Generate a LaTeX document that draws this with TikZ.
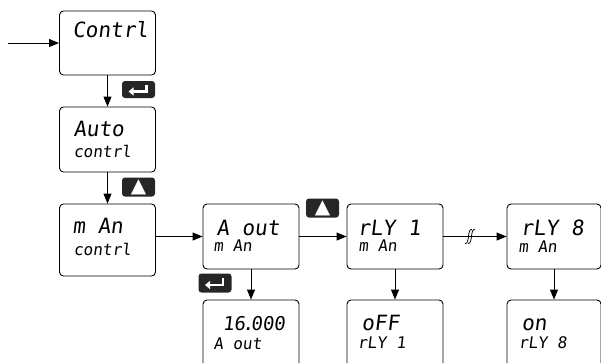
\documentclass[tikz,border=0pt]{standalone}
\usepackage{fontspec}
\usepackage{tikz}
\usetikzlibrary{arrows.meta}
\newfontfamily\segfont{DejaVu Sans Mono}[FakeSlant=0.12]
\newfontfamily\keyfont{DejaVu Sans}

\begin{document}
\begin{tikzpicture}[x=1pt,y=-1pt,->,>={Triangle[length=10pt,width=8pt]},line width=1pt]
    \tikzstyle{disp}=[draw, rounded corners=4pt, minimum width=96pt, minimum height=65pt, inner sep=0pt, line width=0.9pt]
    \tikzstyle{segbig}=[anchor=base west, inner sep=0pt, font=\segfont\fontsize{21}{21}\selectfont]
    \tikzstyle{segsmall}=[anchor=base west, inner sep=0pt, font=\segfont\fontsize{16}{16}\selectfont]
    \tikzstyle{keybox}=[fill=black!85, rounded corners=3pt, minimum width=33pt, minimum height=19pt, inner sep=0pt, text=white, font=\keyfont\fontsize{20}{20}\selectfont]
    \tikzstyle{entermark}=[white, line width=2.6pt, -{Triangle[length=5pt,width=8pt]}]
    \useasboundingbox (0,0) rectangle (601,362);

	% left column
	\node [disp, minimum height=64pt] (contrl) at (107.5,43) {};
	\node [segbig] (contrlA) at (72,37) {Contrl};

	\node [disp] (auto) at (107.5,139.5) {};
	\node [segbig] (autoA) at (73,136) {Auto};
	\node [segsmall] (autoB) at (73,157) {contrl};

	\node [disp, minimum height=72pt] (man) at (107.5,240) {};
	\node [segbig] (manA) at (72,233) {m An};
	\node [segsmall] (manB) at (73,255) {contrl};

	% top row
	\node [disp] (aout) at (251,236.5) {};
	\node [segbig] (aoutA) at (216,235) {A out};
	\node [segsmall] (aoutB) at (213,251) {m An};

	\node [disp] (rly1) at (395,236.5) {};
	\node [segbig] (rly1A) at (357,235) {rLY 1};
	\node [segsmall] (rly1B) at (358,251) {m An};

	\node [disp, minimum width=94pt] (rly8) at (554,236.5) {};
	\node [segbig] (rly8A) at (520,235) {rLY 8};
	\node [segsmall] (rly8B) at (518,252) {m An};

	% bottom row
	\node [disp, minimum height=70pt] (aval) at (251,335) {};
	\node [segbig, font=\segfont\fontsize{19}{19}\selectfont] (avalA) at (222,330) {16\kern-3pt.\kern-3pt000};
	\node [segsmall] (avalB) at (213,349) {A out};

	\node [disp, minimum height=70pt] (off) at (395,335) {};
	\node [segbig] (offA) at (361,330) {oFF};
	\node [segsmall] (offB) at (357,348) {rLY 1};

	\node [disp, minimum height=70pt, minimum width=94pt] (on) at (554,335) {};
	\node [segbig] (onA) at (521,330) {on};
	\node [segsmall] (onB) at (518,348) {rLY 8};

	% keys
	\node [keybox, minimum height=17pt] (enterA) at (138.5,89.5) {};
	\node [keybox] (upA) at (138.5,187) {▲};
	\node [keybox] (upB) at (322.5,208) {▲};
	\node [keybox] (enterB) at (215,283) {};
	\draw [entermark] ([shift={(8,-5)}]enterA.center) -- ([shift={(8,2)}]enterA.center) -- ([shift={(-10,2)}]enterA.center);
	\draw [entermark] ([shift={(8,-5)}]enterB.center) -- ([shift={(8,2)}]enterB.center) -- ([shift={(-10,2)}]enterB.center);

	% connectors
	\coordinate (start) at (8,43);
	\draw (start) -- (contrl);
	\draw (contrl) -- (auto);
	\draw (auto) -- (man);
	\draw (man.east |- aout.west) -- (aout);
	\draw (aout) -- (rly1);
	\draw (rly1) -- coordinate[pos=0.42] (brk) (rly8);
	\draw (aout) -- (aval);
	\draw (rly1) -- (off);
	\draw (rly8) -- (on);

	% break mark
	\draw [-, line width=0.8pt] ([shift={(2,-7)}]brk) .. controls ([shift={(-3,-8)}]brk) and ([shift={(0,8)}]brk) .. ([shift={(-5,7)}]brk);
	\draw [-, line width=0.8pt] ([shift={(5,-7)}]brk) .. controls ([shift={(0,-8)}]brk) and ([shift={(3,8)}]brk) .. ([shift={(-2,7)}]brk);
\end{tikzpicture}
\end{document}
